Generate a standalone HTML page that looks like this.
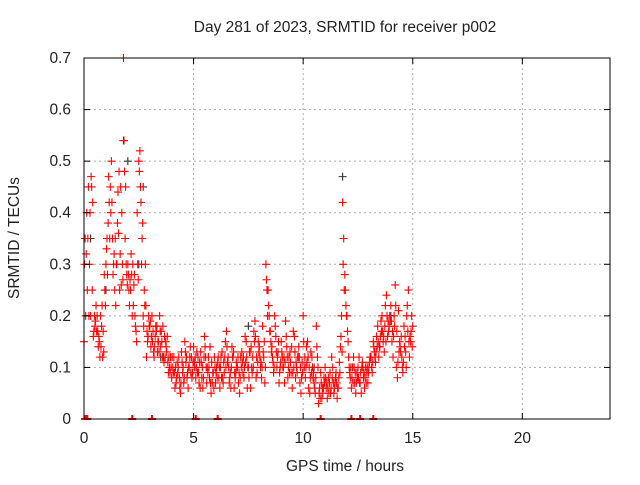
<!DOCTYPE html>
<html><head><meta charset="utf-8"><style>
body{margin:0;background:#fff;}
svg text{font-family:"Liberation Sans",sans-serif;font-size:15.5px;fill:#222;}
</style></head><body>
<svg id="chart" width="640" height="480" viewBox="0 0 640 480" xmlns="http://www.w3.org/2000/svg">
<rect width="640" height="480" fill="#fff"/>
<g id="grid"></g>
<g id="marks"></g>
<g id="axes"></g>
<text x="345" y="32" text-anchor="middle">Day 281 of 2023, SRMTID for receiver p002</text>
<text x="345" y="471" text-anchor="middle">GPS time / hours</text>
<text x="0" y="0" text-anchor="middle" transform="translate(19,238) rotate(-90)">SRMTID / TECUs</text>
</svg>
<script>
const xTicks=[0,5,10,15,20];
const yTicks=[0,0.1,0.2,0.3,0.4,0.5,0.6,0.7];
const yTickLabels=["0","0.1","0.2","0.3","0.4","0.5","0.6","0.7"];
const seriesAStart=0, seriesAStep=0.1;
const seriesA=[0.15,0.32,0.45,0.2,0.42,0.18,0.2,0.15,0.18,0.13,
0.3,0.38,0.45,0.35,0.25,0.3,0.48,0.26,0.7,0.45,
0.3,0.27,0.2,0.28,0.15,0.5,0.42,0.2,0.3,0.15,
0.18,0.2,0.12,0.17,0.15,0.14,0.18,0.12,0.16,0.1,
0.08,0.12,0.07,0.1,0.05,0.09,0.15,0.08,0.1,0.12,
0.14,0.08,0.12,0.06,0.1,0.16,0.07,0.1,0.05,0.09,
0.07,0.11,0.06,0.13,0.09,0.17,0.1,0.06,0.12,0.08,
0.1,0.05,0.13,0.08,0.15,0.1,0.06,0.12,0.19,0.09,
0.14,0.08,0.12,0.3,0.25,0.17,0.12,0.2,0.1,0.07,
0.15,0.1,0.19,0.08,0.13,0.06,0.16,0.1,0.14,0.05,
0.2,0.08,0.15,0.05,0.12,0.07,0.18,0.03,0.09,0.05,
0.1,0.04,0.07,0.12,0.05,0.09,0.06,0.14,0.42,0.28,
0.2,0.1,0.06,0.12,0.05,0.1,0.07,0.11,0.06,0.09,
0.1,0.12,0.15,0.11,0.18,0.14,0.2,0.13,0.24,0.17,
0.22,0.12,0.26,0.08,0.15,0.12,0.18,0.1,0.25,0.15,0.18];
const seriesBStart=0.05, seriesBStep=0.1;
const seriesB=[0.35,0.25,0.3,0.45,0.17,0.22,0.14,0.2,0.12,0.25,
0.35,0.42,0.5,0.3,0.22,0.44,0.32,0.3,0.48,0.28,
0.25,0.32,0.22,0.18,0.3,0.52,0.35,0.25,0.12,0.2,
0.14,0.17,0.16,0.13,0.2,0.15,0.11,0.14,0.09,0.12,
0.1,0.06,0.11,0.08,0.13,0.07,0.11,0.06,0.14,0.09,
0.1,0.13,0.07,0.11,0.08,0.12,0.09,0.14,0.07,0.12,
0.1,0.08,0.12,0.07,0.15,0.11,0.08,0.14,0.06,0.11,
0.07,0.12,0.09,0.16,0.06,0.13,0.1,0.17,0.08,0.15,
0.1,0.18,0.07,0.25,0.2,0.13,0.09,0.16,0.13,0.1,
0.12,0.07,0.14,0.12,0.09,0.17,0.08,0.12,0.07,0.11,
0.1,0.14,0.06,0.13,0.08,0.05,0.12,0.06,0.04,0.08,
0.06,0.08,0.05,0.1,0.07,0.04,0.11,0.2,0.35,0.22,
0.15,0.08,0.1,0.07,0.09,0.12,0.05,0.08,0.1,0.07,
0.12,0.09,0.13,0.16,0.12,0.19,0.15,0.22,0.16,0.2,
0.15,0.2,0.1,0.21,0.13,0.09,0.16,0.22,0.12,0.2];
const seriesCStart=0.025, seriesCStep=0.1;
const seriesC=[0.3,0.4,0.2,0.47,0.16,0.19,0.17,0.12,0.22,0.28,
0.33,0.47,0.4,0.28,0.35,0.38,0.25,0.4,0.54,0.3,
0.28,0.25,0.3,0.2,0.4,0.48,0.3,0.18,0.22,0.16,
0.19,0.15,0.14,0.18,0.13,0.17,0.12,0.15,0.11,0.09,
0.12,0.09,0.08,0.12,0.07,0.1,0.13,0.09,0.12,0.08,
0.11,0.1,0.09,0.13,0.06,0.14,0.1,0.08,0.11,0.06,
0.09,0.12,0.1,0.08,0.12,0.14,0.07,0.1,0.13,0.09,
0.12,0.08,0.11,0.1,0.12,0.08,0.14,0.1,0.16,0.11,
0.12,0.1,0.15,0.27,0.22,0.15,0.11,0.18,0.12,0.09,
0.13,0.12,0.16,0.1,0.11,0.09,0.13,0.09,0.12,0.08,
0.15,0.1,0.12,0.08,0.1,0.06,0.14,0.05,0.07,0.06,
0.08,0.06,0.09,0.08,0.06,0.07,0.08,0.16,0.3,0.25,
0.17,0.09,0.08,0.1,0.07,0.08,0.09,0.1,0.08,0.1,
0.11,0.1,0.14,0.13,0.15,0.16,0.17,0.18,0.2,0.18,
0.19,0.16,0.22,0.11,0.14,0.1,0.14,0.2,0.15,0.17];
const seriesDStart=0.075, seriesDStep=0.1;
const seriesD=[0.2,0.35,0.4,0.25,0.2,0.17,0.16,0.14,0.17,0.22,
0.28,0.35,0.42,0.32,0.3,0.36,0.45,0.27,0.35,0.26,
0.22,0.28,0.26,0.17,0.27,0.45,0.38,0.22,0.17,0.18,
0.16,0.13,0.18,0.15,0.17,0.12,0.16,0.13,0.12,0.1,
0.09,0.1,0.09,0.06,0.11,0.08,0.12,0.1,0.09,0.11,
0.12,0.09,0.11,0.08,0.12,0.1,0.12,0.07,0.09,0.1,
0.08,0.1,0.08,0.11,0.1,0.12,0.09,0.12,0.09,0.1,
0.09,0.1,0.12,0.11,0.1,0.13,0.09,0.15,0.12,0.13,
0.11,0.13,0.1,0.2,0.17,0.14,0.1,0.13,0.15,0.11,
0.1,0.11,0.12,0.09,0.14,0.1,0.11,0.12,0.1,0.09,
0.12,0.11,0.1,0.09,0.09,0.08,0.1,0.04,0.06,0.07,
0.07,0.05,0.06,0.07,0.08,0.06,0.09,0.13,0.25,0.2,
0.12,0.1,0.07,0.09,0.08,0.07,0.1,0.09,0.07,0.09,
0.12,0.11,0.12,0.14,0.14,0.17,0.16,0.15,0.19,0.19,
0.17,0.18,0.17,0.13,0.16,0.11,0.13,0.17,0.16,0.14];
const zeroTimes=[0.05,0.1,0.15,2.2,3.1,5.1,6.1,10.8,12.2,12.6,13.2];
const blackTimes=[0.3,1.0,1.8,2.0,2.5,2.7,3.5,7.5,10.5,11.8,14.0];
const blackValues=[0.35,0.25,0.54,0.5,0.3,0.45,0.12,0.18,0.1,0.47,0.2];

const L=84,R=610,T=58,B=419,XMAX=24,YMAX=0.7;
const sx=t=>L+(R-L)*t/XMAX;
const sy=v=>B-(B-T)*v/YMAX;
const NS="http://www.w3.org/2000/svg";
function mk(tag,attrs,parent){const e=document.createElementNS(NS,tag);for(const k in attrs)e.setAttribute(k,attrs[k]);parent.appendChild(e);return e;}
const grid=document.getElementById('grid'),marks=document.getElementById('marks'),axes=document.getElementById('axes');
xTicks.forEach(t=>{
 if(t>0){const g=mk('line',{x1:sx(t),x2:sx(t),y1:T,y2:B,stroke:'#aaa','stroke-dasharray':'2,3'},grid);
 
 }
 const tx=mk('text',{x:sx(t),y:B+24,'text-anchor':'middle'},axes);tx.textContent=t;
 
 
 mk('line',{x1:sx(t),x2:sx(t),y1:B,y2:B-6,stroke:'#000'},axes);
 mk('line',{x1:sx(t),x2:sx(t),y1:T,y2:T+6,stroke:'#000'},axes);
});
yTicks.forEach((v,i)=>{
 if(v>0){const g=mk('line',{x1:L,x2:R,y1:sy(v),y2:sy(v),stroke:'#aaa','stroke-dasharray':'2,3'},grid);
 
 }
 const tx=mk('text',{x:L-13,y:sy(v)+5,'text-anchor':'end'},axes);tx.textContent=yTickLabels[i];
 
 
 mk('line',{x1:L,x2:L+6,y1:sy(v),y2:sy(v),stroke:'#000'},axes);
 mk('line',{x1:R,x2:R-6,y1:sy(v),y2:sy(v),stroke:'#000'},axes);
});
function plus(t,v,color,name,w){
 const x=sx(t),y=sy(v);
 const p=mk('path',{d:`M${x-4},${y}H${x+4}M${x},${y-4}V${Math.min(y+4,B)}`,stroke:color,'stroke-width':w||1.1,fill:'none'},marks);
 
 
}
blackValues.forEach((v,i)=>plus(blackTimes[i],v,'#333','black-point'));
seriesA.forEach((v,i)=>plus(seriesAStart+i*seriesAStep,v,'#f00','srmtid-point'));
seriesB.forEach((v,i)=>plus(seriesBStart+i*seriesBStep,v,'#f00','srmtid-point'));
seriesC.forEach((v,i)=>plus(seriesCStart+i*seriesCStep,v,'#f00','srmtid-point'));
seriesD.forEach((v,i)=>plus(seriesDStart+i*seriesDStep,v,'#f00','srmtid-point'));
zeroTimes.forEach(t=>plus(t,0,'#f00','zero-point',2));
const frame=mk('rect',{x:L,y:T,width:R-L,height:B-T,fill:'none',stroke:'#000'},axes);


</script>
</body></html>
